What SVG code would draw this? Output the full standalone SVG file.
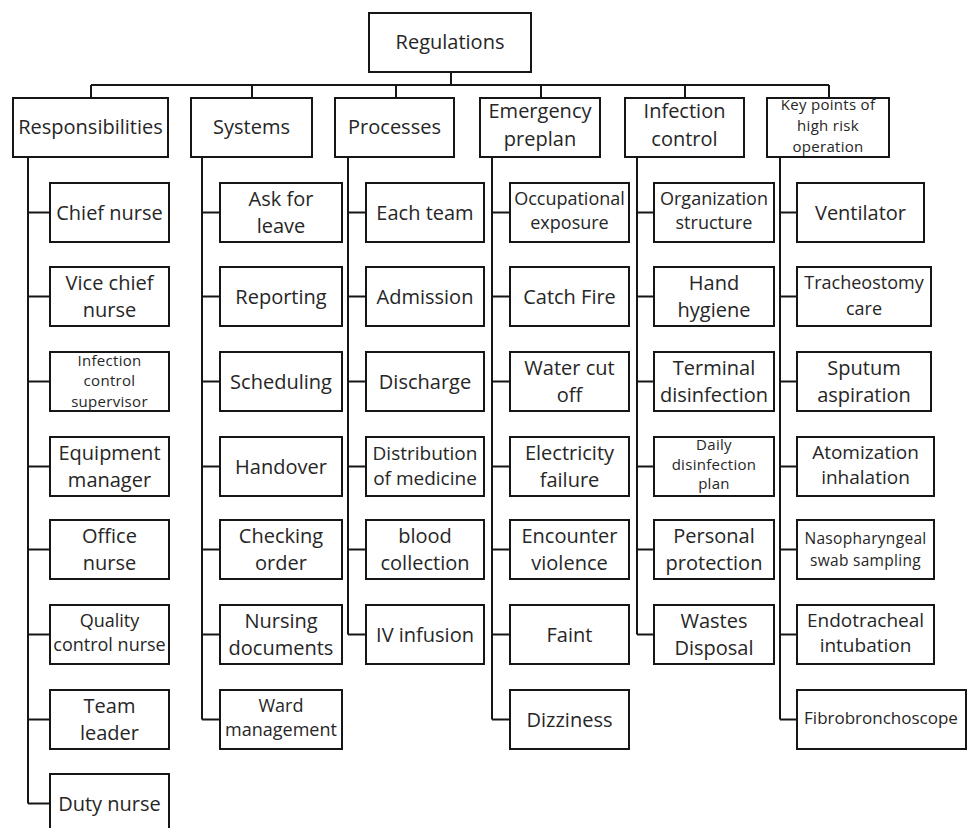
<svg xmlns="http://www.w3.org/2000/svg" width="968" height="828" viewBox="0 0 968 828">
<style>
rect.b{fill:#fff;stroke:#161616;stroke-width:2}
text{font-family:"Open Sans","Noto Sans","Liberation Sans",sans-serif;font-size:20px;fill:#262626;text-anchor:middle}
.s{font-size:15px;letter-spacing:0.3px}
.m{font-size:18px}
.c path{fill:none;stroke:#161616;stroke-width:2}
</style>
<rect width="968" height="828" fill="#fff"/>
<g class="c" id="connectors">
<path d="M451 72V85M91 85H829M91 85V98M252 85V98M396 85V98M541 85V98M685 85V98M829 85V98" stroke-width="2.5"/>
<path d="M28 157V803.5M28 212.5H50M28 296.5H50M28 381.5H50M28 466.5H50M28 549.5H50M28 634.5H50M28 719.5H50M28 803.5H50"/>
<path d="M202 157V719.5M202 212.5H220M202 296.5H220M202 381.5H220M202 466.5H220M202 549.5H220M202 634.5H220M202 719.5H220"/>
<path d="M348 157V634.5M348 212.5H366M348 296.5H366M348 381.5H366M348 466.5H366M348 549.5H366M348 634.5H366"/>
<path d="M492 157V719.5M492 212.5H510M492 296.5H510M492 381.5H510M492 466.5H510M492 549.5H510M492 634.5H510M492 719.5H510"/>
<path d="M637 157V634.5M637 212.5H654M637 296.5H654M637 381.5H654M637 466.5H654M637 549.5H654M637 634.5H654"/>
<path d="M780 157V719.5M780 212.5H797M780 296.5H797M780 381.5H797M780 466.5H797M780 549.5H797M780 634.5H797M780 719.5H797"/>
</g>
<g id="regulations"><rect class="b" x="369" y="13" width="162" height="59"/><text x="450" y="49">Regulations</text></g>
<g id="responsibilities"><rect class="b" x="13" y="98" width="155" height="59"/><text x="90.5" y="134">Responsibilities</text></g>
<g id="systems"><rect class="b" x="191" y="98" width="121" height="59"/><text x="251.5" y="134">Systems</text></g>
<g id="processes"><rect class="b" x="335" y="98" width="119" height="59"/><text x="394.5" y="134">Processes</text></g>
<g id="emergency"><rect class="b" x="480" y="98" width="120" height="59"/><text x="540" y="118">Emergency<tspan x="540" y="146">preplan</tspan></text></g>
<g id="infection"><rect class="b" x="625" y="98" width="119" height="59"/><text x="684.5" y="118">Infection<tspan x="684.5" y="146">control</tspan></text></g>
<g id="keypoints"><rect class="b" x="767" y="98" width="122" height="59"/><text class="s" x="828" y="110">Key points of<tspan x="828" y="131">high risk</tspan><tspan x="828" y="152">operation</tspan></text></g>

<g id="chief-nurse"><rect class="b" x="50" y="183" width="119" height="59"/><text x="109.5" y="219.5">Chief nurse</text></g>
<g id="vice-chief"><rect class="b" x="50" y="267" width="119" height="59"/><text x="109.5" y="289.5">Vice chief<tspan x="109.5" y="316.5">nurse</tspan></text></g>
<g id="ic-supervisor"><rect class="b" x="50" y="352" width="119" height="59"/><text class="s" x="109.5" y="365.5">Infection<tspan x="109.5" y="386">control</tspan><tspan x="109.5" y="406.5">supervisor</tspan></text></g>
<g id="equipment"><rect class="b" x="50" y="437" width="119" height="59"/><text x="109.5" y="459.5">Equipment<tspan x="109.5" y="486.5">manager</tspan></text></g>
<g id="office"><rect class="b" x="50" y="520" width="119" height="59"/><text x="109.5" y="542.5">Office<tspan x="109.5" y="569.5">nurse</tspan></text></g>
<g id="quality"><rect class="b" x="50" y="605" width="119" height="59"/><text class="m" x="109.5" y="627">Quality<tspan x="109.5" y="651">control nurse</tspan></text></g>
<g id="team-leader"><rect class="b" x="50" y="690" width="119" height="59"/><text x="109.5" y="712.5">Team<tspan x="109.5" y="739.5">leader</tspan></text></g>
<g id="duty"><rect class="b" x="50" y="774" width="119" height="59"/><text x="109.5" y="810.5">Duty nurse</text></g>

<g id="ask-leave"><rect class="b" x="220" y="183" width="122" height="59"/><text x="281" y="205.5">Ask for<tspan x="281" y="232.5">leave</tspan></text></g>
<g id="reporting"><rect class="b" x="220" y="267" width="122" height="59"/><text x="281" y="303.5">Reporting</text></g>
<g id="scheduling"><rect class="b" x="220" y="352" width="122" height="59"/><text x="281" y="388.5">Scheduling</text></g>
<g id="handover"><rect class="b" x="220" y="437" width="122" height="59"/><text x="281" y="473.5">Handover</text></g>
<g id="checking"><rect class="b" x="220" y="520" width="122" height="59"/><text x="281" y="542.5">Checking<tspan x="281" y="569.5">order</tspan></text></g>
<g id="nursing-docs"><rect class="b" x="220" y="605" width="122" height="59"/><text x="281" y="627.5">Nursing<tspan x="281" y="654.5">documents</tspan></text></g>
<g id="ward"><rect class="b" x="220" y="690" width="122" height="59"/><text class="m" x="281" y="712">Ward<tspan x="281" y="736">management</tspan></text></g>

<g id="each-team"><rect class="b" x="366" y="183" width="118" height="59"/><text x="425" y="219.5">Each team</text></g>
<g id="admission"><rect class="b" x="366" y="267" width="118" height="59"/><text x="425" y="303.5">Admission</text></g>
<g id="discharge"><rect class="b" x="366" y="352" width="118" height="59"/><text x="425" y="388.5">Discharge</text></g>
<g id="distribution"><rect class="b" x="366" y="437" width="118" height="59"/><text x="425" y="459.5" style="font-size:19px">Distribution<tspan x="425" y="485">of medicine</tspan></text></g>
<g id="blood"><rect class="b" x="366" y="520" width="118" height="59"/><text x="425" y="542.5">blood<tspan x="425" y="569.5">collection</tspan></text></g>
<g id="iv"><rect class="b" x="366" y="605" width="118" height="59"/><text x="425" y="641.5">IV infusion</text></g>

<g id="occupational"><rect class="b" x="510" y="183" width="119" height="59"/><text class="m" x="569.5" y="205">Occupational<tspan x="569.5" y="229">exposure</tspan></text></g>
<g id="fire"><rect class="b" x="510" y="267" width="119" height="59"/><text x="569.5" y="303.5">Catch Fire</text></g>
<g id="water"><rect class="b" x="510" y="352" width="119" height="59"/><text x="569.5" y="374.5">Water cut<tspan x="569.5" y="401.5">off</tspan></text></g>
<g id="electricity"><rect class="b" x="510" y="437" width="119" height="59"/><text x="569.5" y="459.5">Electricity<tspan x="569.5" y="486.5">failure</tspan></text></g>
<g id="violence"><rect class="b" x="510" y="520" width="119" height="59"/><text x="569.5" y="542.5">Encounter<tspan x="569.5" y="569.5">violence</tspan></text></g>
<g id="faint"><rect class="b" x="510" y="605" width="119" height="59"/><text x="569.5" y="641.5">Faint</text></g>
<g id="dizziness"><rect class="b" x="510" y="690" width="119" height="59"/><text x="569.5" y="726.5">Dizziness</text></g>

<g id="organization"><rect class="b" x="654" y="183" width="120" height="59"/><text class="m" x="714" y="205">Organization<tspan x="714" y="229">structure</tspan></text></g>
<g id="hand"><rect class="b" x="654" y="267" width="120" height="59"/><text x="714" y="289.5">Hand<tspan x="714" y="316.5">hygiene</tspan></text></g>
<g id="terminal"><rect class="b" x="654" y="352" width="120" height="59"/><text x="714" y="374.5">Terminal<tspan x="714" y="401.5">disinfection</tspan></text></g>
<g id="daily"><rect class="b" x="654" y="437" width="120" height="59"/><text class="s" x="714" y="450">Daily<tspan x="714" y="469.5">disinfection</tspan><tspan x="714" y="489">plan</tspan></text></g>
<g id="personal"><rect class="b" x="654" y="520" width="120" height="59"/><text x="714" y="542.5">Personal<tspan x="714" y="569.5">protection</tspan></text></g>
<g id="wastes"><rect class="b" x="654" y="605" width="120" height="59"/><text x="714" y="627.5">Wastes<tspan x="714" y="654.5">Disposal</tspan></text></g>

<g id="ventilator"><rect class="b" x="797" y="183" width="127" height="59"/><text x="860.5" y="219.5">Ventilator</text></g>
<g id="tracheostomy"><rect class="b" x="797" y="267" width="134" height="59"/><text x="864" y="289" style="font-size:18px">Tracheostomy<tspan x="864" y="314.5">care</tspan></text></g>
<g id="sputum"><rect class="b" x="797" y="352" width="134" height="59"/><text x="864" y="374.5">Sputum<tspan x="864" y="401.5">aspiration</tspan></text></g>
<g id="atomization"><rect class="b" x="797" y="437" width="137" height="59"/><text x="865.5" y="458.5" style="font-size:19px">Atomization<tspan x="865.5" y="483.5">inhalation</tspan></text></g>
<g id="nasopharyngeal"><rect class="b" x="797" y="520" width="137" height="59"/><text class="s" x="865.5" y="544" style="font-size:15.5px">Nasopharyngeal<tspan x="865.5" y="565.5">swab sampling</tspan></text></g>
<g id="endotracheal"><rect class="b" x="797" y="605" width="137" height="59"/><text x="865.5" y="626.5" style="font-size:19px">Endotracheal<tspan x="865.5" y="651.5">intubation</tspan></text></g>
<g id="fibro"><rect class="b" x="797" y="690" width="169" height="59"/><text x="881" y="723.5" style="font-size:17px">Fibrobronchoscope</text></g>
</svg>
